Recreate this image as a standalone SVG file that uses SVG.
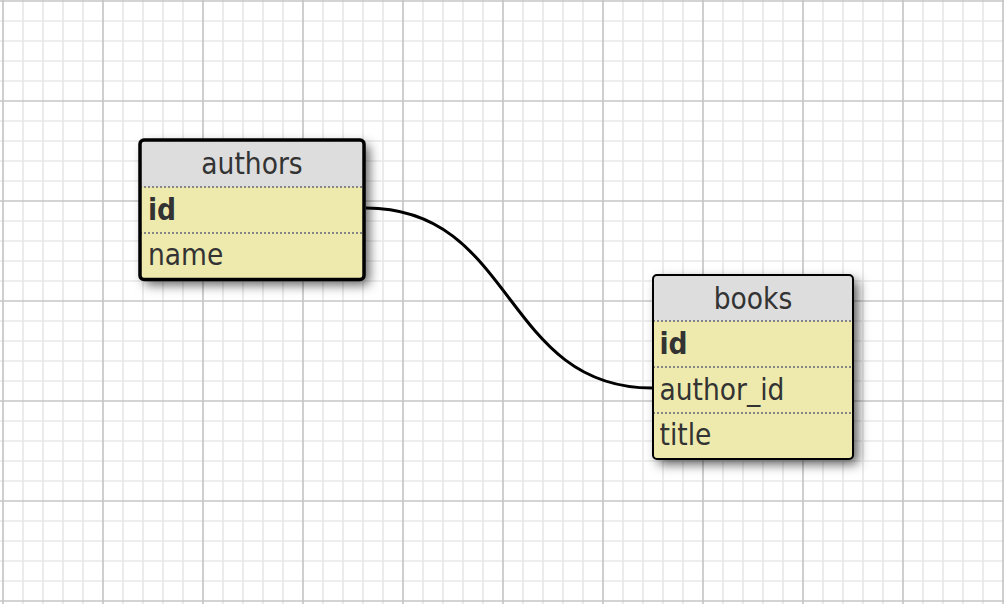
<svg xmlns="http://www.w3.org/2000/svg" width="1004" height="604" viewBox="0 0 1004 604">
<defs>
<pattern id="grid" patternUnits="userSpaceOnUse" x="-7" y="-9" width="100" height="100">
<g stroke="#e8e8e8" stroke-width="1.7">
<line x1="30" y1="0" x2="30" y2="100"/><line x1="50" y1="0" x2="50" y2="100"/><line x1="70" y1="0" x2="70" y2="100"/><line x1="90" y1="0" x2="90" y2="100"/>
<line x1="0" y1="30" x2="100" y2="30"/><line x1="0" y1="50" x2="100" y2="50"/><line x1="0" y1="70" x2="100" y2="70"/><line x1="0" y1="90" x2="100" y2="90"/>
</g>
<g stroke="#c6c6c6" stroke-width="1.7">
<line x1="10" y1="0" x2="10" y2="100"/><line x1="0" y1="10" x2="100" y2="10"/>
</g>
</pattern>
<filter id="shadow" x="-20%" y="-20%" width="150%" height="150%">
<feDropShadow dx="5" dy="5" stdDeviation="6" flood-color="#000" flood-opacity="0.65"/>
</filter>
</defs>
<style>
.row{fill:#eeeaae}
.head{fill:#dddddd}
.sep{stroke:#858585;stroke-width:1.8;stroke-dasharray:2 2}
.t{font-family:"DejaVu Sans Condensed","DejaVu Sans",sans-serif;font-size:29.5px;fill:#333333}
.b{font-weight:bold}
.conn{fill:none;stroke:#000;stroke-width:3}
</style>
<rect width="1004" height="604" fill="#ffffff"/>
<rect width="1004" height="604" fill="url(#grid)"/>

<g id="authors">
<rect x="140" y="140" width="224" height="139.5" rx="4" class="row" filter="url(#shadow)"/>
<path d="M140,187 V144 Q140,140 144,140 H360 Q364,140 364,144 V187 Z" class="head"/>
<line x1="140" y1="187" x2="364" y2="187" class="sep"/>
<line x1="140" y1="233" x2="364" y2="233" class="sep"/>
<text x="252" y="174" text-anchor="middle" class="t">authors</text>
<text x="148" y="219.5" class="t b">id</text>
<text x="148" y="265" class="t">name</text>
<rect x="140" y="140" width="224" height="139.5" rx="4" fill="none" stroke="#000" stroke-width="3.5"/>
</g>

<g id="books">
<rect x="653" y="275" width="200" height="184" rx="4" class="row" filter="url(#shadow)"/>
<path d="M653,321 V279 Q653,275 657,275 H849 Q853,275 853,279 V321 Z" class="head"/>
<line x1="653" y1="321" x2="853" y2="321" class="sep"/>
<line x1="653" y1="367" x2="853" y2="367" class="sep"/>
<line x1="653" y1="413" x2="853" y2="413" class="sep"/>
<text x="753" y="308.5" text-anchor="middle" class="t">books</text>
<text x="659.5" y="353.5" class="t b">id</text>
<text x="659.5" y="400" class="t">author_id</text>
<text x="659.5" y="445" class="t">title</text>
<rect x="653" y="275" width="200" height="184" rx="4" fill="none" stroke="#000" stroke-width="2"/>
</g>

<g id="connectors">
<path d="M366,208 C516,208 502,388 652,388" class="conn"/>
</g>
</svg>
